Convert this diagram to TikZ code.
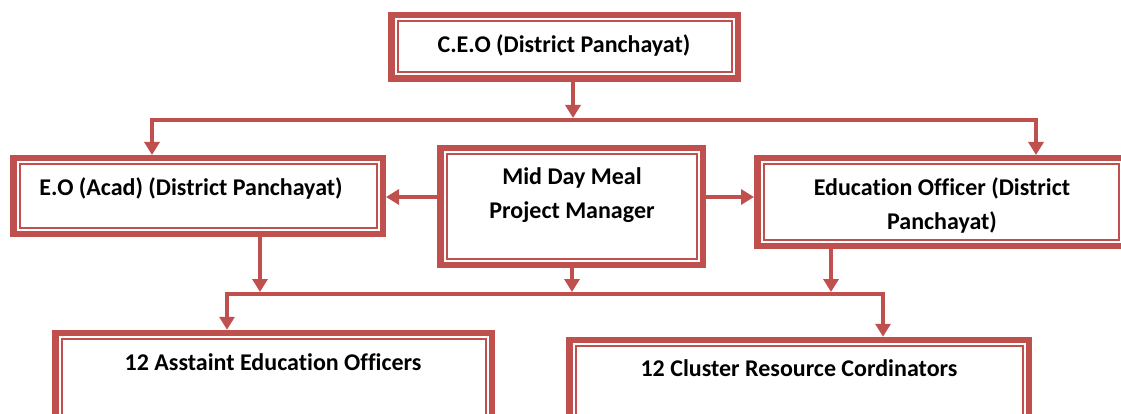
\documentclass[tikz,border=0pt]{standalone}
\usepackage{fontspec}
\setmainfont[Ligatures=NoCommon]{Carlito}
\usetikzlibrary{arrows.meta}
\definecolor{ored}{HTML}{C0504D}
\begin{document}
\begin{tikzpicture}[x=1pt,y=1pt,
  orgbox/.style={draw=ored, line width=6.5pt, fill=white, inner sep=0pt,
    path picture={\draw[ored, line width=2pt]
      ([shift={(6.25pt,-6.25pt)}]path picture bounding box.north west) rectangle
      ([shift={(-6.25pt,6.25pt)}]path picture bounding box.south east);}},
  lbl/.style={font=\fontsize{24}{34}\selectfont\bfseries, align=center, inner sep=0pt},
  conn/.style={draw=ored, line width=4.5pt},
  arr/.style={conn, -{Triangle[length=13pt,width=15pt]}}]
\useasboundingbox (0,0) rectangle (1121,-414);
% boxes (outer edge coordinates)
\node[orgbox, minimum width=346.5pt, minimum height=63.5pt] (ceo) at (564.5,-47) {};
\node[orgbox, minimum width=369.5pt, minimum height=75.5pt] (eo) at (198,-196) {};
\node[orgbox, minimum width=262.5pt, minimum height=116.5pt] (mdm) at (571.5,-206.5) {};
\node[orgbox, minimum width=367.5pt, minimum height=87.5pt] (edu) at (941,-202) {};
\node[orgbox, minimum width=436.5pt, minimum height=110pt] (aeo) at (273.5,-388) {};
\node[orgbox, minimum width=459.5pt, minimum height=110pt] (crc) at (799,-395) {};
% texts
\node[lbl] (ceot) at (564,-45) {C.E.O (District Panchayat)};
\node[lbl] (eot) at (191,-188) {E.O (Acad) (District Panchayat)};
\node[lbl] (mdmt) at (572,-195) {Mid Day Meal\\Project Manager};
\node[lbl] (edut) at (942,-205) {Education Officer (District\\Panchayat)};
\node[lbl] (aeot) at (273,-362) {12 Asstaint Education Officers};
\node[lbl] (crct) at (799,-368) {12 Cluster Resource Cordinators};
% junction coordinates
\coordinate (h1) at (573,-120);
\coordinate (h1l) at (152,-120);
\coordinate (h1r) at (1036,-120);
\coordinate (h2l) at (227,-294);
\coordinate (h2r) at (883,-294);
\coordinate (j1) at (260,-294);
\coordinate (j2) at (572,-294);
\coordinate (j3) at (831,-294);
% connectors
\draw[arr] (ceo.south -| h1) -- ([yshift=2pt]h1);
\draw[conn] (h1l) -- (h1r);
\draw[arr] ([yshift=2pt]h1l) -- (h1l |- eo.north);
\draw[arr] ([yshift=2pt]h1r) -- (h1r |- edu.north);
\draw[arr] (mdm.west |- 0,-197) -- (eo.east |- 0,-197);
\draw[arr] (mdm.east |- 0,-197) -- (edu.west |- 0,-197);
\draw[arr] (eo.south -| j1) -- ([yshift=2pt]j1);
\draw[arr] (mdm.south -| j2) -- ([yshift=2pt]j2);
\draw[arr] (edu.south -| j3) -- ([yshift=2pt]j3);
\draw[conn] (h2l) -- (h2r);
\draw[arr] ([yshift=2pt]h2l) -- (h2l |- aeo.north);
\draw[arr] ([yshift=2pt]h2r) -- (h2r |- crc.north);
\end{tikzpicture}
\end{document}
